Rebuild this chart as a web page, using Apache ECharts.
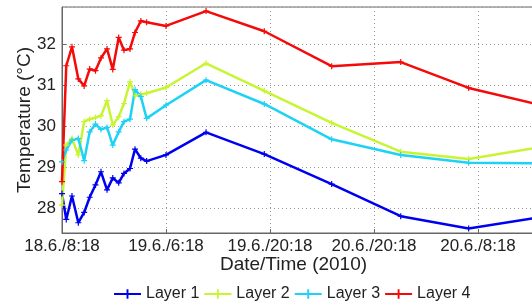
<!DOCTYPE html>
<html>
<head>
<meta charset="utf-8">
<script src="https://cdn.jsdelivr.net/npm/echarts@6/dist/echarts.min.js"></script>
<style>
  html, body { margin: 0; padding: 0; background: #fff; }
  #main { width: 532px; height: 304px; }
</style>
</head>
<body>
<div id="main"></div>
<script>
// x positions in tick units (tick 0 = first label)
var xPos = [0, 0.041, 0.096, 0.157, 0.213, 0.266, 0.322, 0.375, 0.433, 0.488, 0.545, 0.596,
  0.654, 0.702, 0.758, 0.814, 1.0, 1.385, 1.945, 2.593, 3.257, 3.910, 4.788];
var xLabels = ['18.6./8:18', '19.6./6:18', '19.6./20:18', '20.6./20:18', '20.6./8:18', ''];
var names = ['Layer 1', 'Layer 2', 'Layer 3', 'Layer 4'];
var layer1 = [28.36, 27.73, 28.30, 27.65, 27.90, 28.27, 28.57, 28.89, 28.45, 28.74, 28.62, 28.85,
  28.97, 29.44, 29.22, 29.15, 29.30, 29.85, 29.32, 28.59, 27.81, 27.51, 27.86];
var layer2 = [28.08, 29.54, 29.70, 29.30, 30.11, 30.17, 30.21, 30.25, 30.62, 30.03, 30.23, 30.55,
  31.08, 30.74, 30.77, 30.80, 30.94, 31.53, 30.86, 30.08, 29.38, 29.20, 29.57];
var layer3 = [29.13, 29.42, 29.66, 29.70, 29.16, 29.86, 30.05, 29.92, 29.97, 29.54, 29.86, 30.11,
  30.17, 30.89, 30.72, 30.19, 30.51, 31.12, 30.54, 29.68, 29.30, 29.11, 29.09];
var layer4 = [28.65, 31.47, 31.93, 31.15, 30.98, 31.39, 31.35, 31.66, 31.88, 31.38, 32.16, 31.85,
  31.88, 32.28, 32.56, 32.53, 32.44, 32.80, 32.31, 31.46, 31.56, 30.93, 30.40];
var colors = ['#0000f0', '#c8f532', '#1ed2f5', '#f50a0a'];

var plus = 'path://M2,0H3V2H5V3H3V5H2V3H0V2H2Z';
var font = 'Liberation Sans, Arial, sans-serif';

function makeSeries(name, values, color) {
  return {
    name: name,
    type: 'line',
    data: xPos.map(function (x, i) { return [x, values[i]]; }),
    symbol: plus,
    symbolSize: 6,
    showSymbol: true,
    color: color,
    lineStyle: { width: 2.5, color: color },
    itemStyle: { color: color },
    animation: false
  };
}

var myChart = echarts.init(document.getElementById('main'));
var option = {
  animation: false,
  grid: {
    left: 62, top: 7, right: -50, bottom: 71,
    outerBoundsMode: 'none',
    containLabel: false,
    show: true, borderColor: '#666', borderWidth: 1
  },
  xAxis: {
    type: 'value',
    min: 0, max: 5, interval: 1,
    name: 'Date/Time (2010)',
    nameLocation: 'middle',
    nameGap: 22,
    nameMoveOverlap: false,
    nameTextStyle: { fontSize: 19, color: '#222', fontFamily: font, padding: [0, 57, 0, 0] },
    axisLine: { show: true, lineStyle: { color: '#666', width: 1 } },
    axisTick: { show: true, inside: true, length: 4, lineStyle: { color: '#666' } },
    axisLabel: {
      fontSize: 17, color: '#222', fontFamily: font, margin: 5,
      formatter: function (v) { return xLabels[Math.round(v)]; }
    },
    splitLine: { show: true, lineStyle: { type: [1, 3], color: '#999', width: 1 } }
  },
  yAxis: {
    type: 'value',
    min: 27.4, max: 32.9, splitNumber: 5,
    name: 'Temperature (°C)',
    nameLocation: 'middle',
    nameGap: 28,
    nameMoveOverlap: false,
    nameTextStyle: { fontSize: 19, color: '#222', fontFamily: font },
    axisLine: { show: true, lineStyle: { color: '#666', width: 1 } },
    axisTick: { show: true, inside: true, length: 4, lineStyle: { color: '#666' } },
    axisLabel: {
      fontSize: 17, color: '#222', fontFamily: font, margin: 6,
      showMinLabel: false, showMaxLabel: false
    },
    splitLine: { show: true, lineStyle: { type: [1, 3], color: '#999', width: 1 } }
  },
  legend: {
    data: names,
    left: 108,
    top: 281,
    itemWidth: 27,
    itemHeight: 12,
    itemGap: 4,
    textStyle: { fontSize: 16, color: '#222', fontFamily: font }
  },
  series: [
    makeSeries(names[0], layer1, colors[0]),
    makeSeries(names[1], layer2, colors[1]),
    makeSeries(names[2], layer3, colors[2]),
    makeSeries(names[3], layer4, colors[3])
  ]
};
myChart.setOption(option);
</script>
</body>
</html>
